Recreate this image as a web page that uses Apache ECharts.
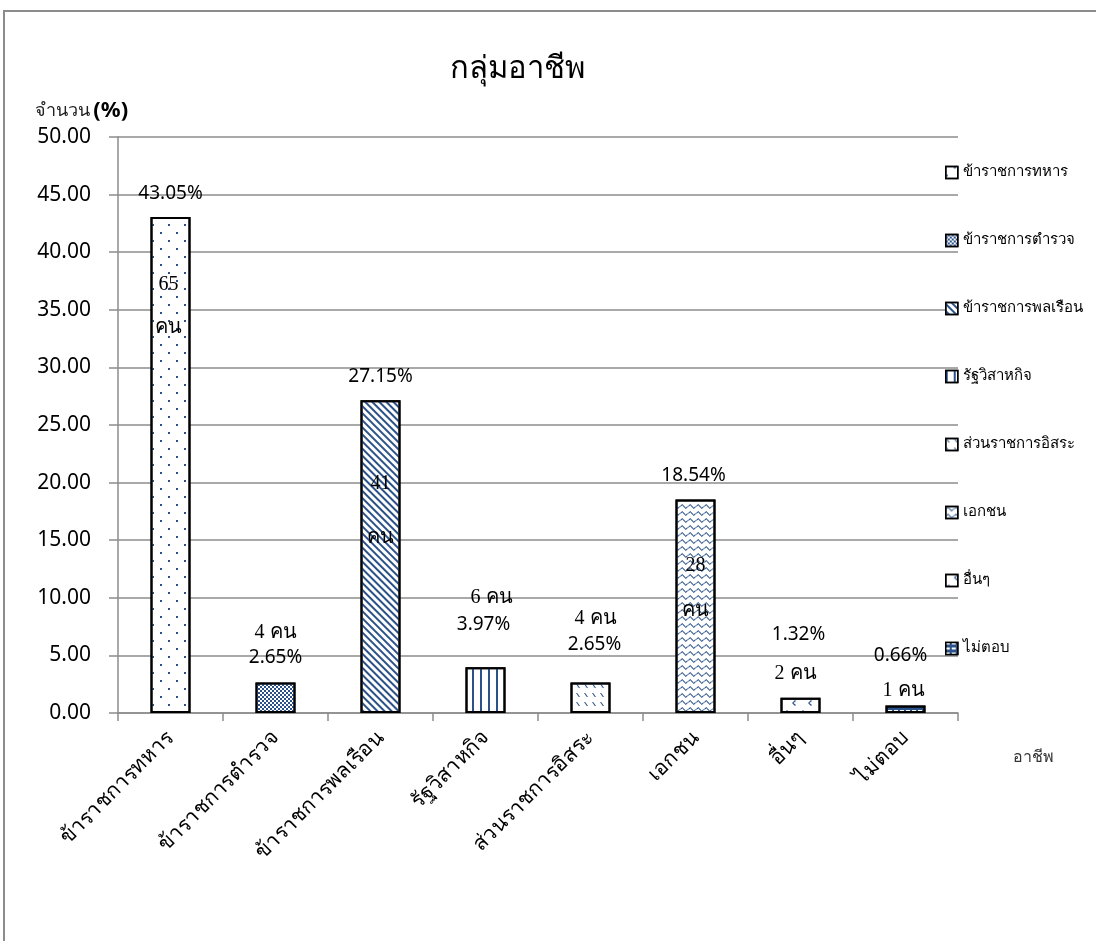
<!DOCTYPE html>
<html>
<head>
<meta charset="utf-8">
<script src="https://cdn.jsdelivr.net/npm/echarts@6/dist/echarts.min.js"></script>
<style>
  html, body { margin: 0; padding: 0; background: #fff; }
  #chart { width: 1096px; height: 941px; }
</style>
</head>
<body>
<div id="chart"></div>
<script>
// data
const occupations = ['ข้าราชการทหาร', 'ข้าราชการตำรวจ', 'ข้าราชการพลเรือน', 'รัฐวิสาหกิจ',
                     'ส่วนราชการอิสระ', 'เอกชน', 'อื่นๆ', 'ไม่ตอบ'];
const percents = [43.05, 2.65, 27.15, 3.97, 2.65, 18.54, 1.32, 0.66];
const counts = [65, 4, 41, 6, 4, 28, 2, 1];
const yMin = 0, yMax = 50, yStep = 5;

// label placement (offset from bar top centre)
const pctOffsets = [[0, -23], [0, -25], [0, -24], [-2, -43], [4, -38], [-2, -24], [-2, -63], [-5, -50]];
const cntOffsets = [[-2, 89], [0, -50], [0, 111], [6, -70], [5, -64], [0, 89], [-5, -24], [-2, -15]];
const cntInside = [true, false, true, false, false, true, false, false];
const cntLineHeights = [43, 22, 54, 22, 22, 45, 22, 22];

const blue = '#2b5288';
const fills = ['#fff', '#fff', '#fff', '#fff', '#fff', '#fff', '#fff', blue];
const decals = [
  // sparse staggered dots
  { symbol: 'rect', symbolSize: 1, color: blue, dashArrayX: [[2, 14], [0, 8, 2, 6]], dashArrayY: [2, 6] },
  // fine checker
  { symbol: 'rect', symbolSize: 1, color: blue, dashArrayX: [[2, 2], [0, 2, 2, 0]], dashArrayY: [2, 0] },
  // dense wide downward diagonal
  { symbol: 'rect', symbolSize: 1, color: blue, dashArrayX: [1, 0], dashArrayY: [1.5, 2.5], rotation: Math.PI / 4 },
  // vertical lines
  { symbol: 'rect', symbolSize: 1, color: blue, dashArrayX: [2, 6], dashArrayY: [1, 0] },
  // short dashed diagonals
  { symbol: 'path://M0,0 L1.2,0 L4,4 L2.8,4 Z', symbolSize: 1, color: blue, dashArrayX: [4, 4], dashArrayY: [4, 5] },
  // wave
  { symbol: 'path://M0,2 L2,0 L4,2 L6,4 L8,2 L8,3.5 L6,5.5 L4,3.5 L2,1.5 L0,3.5 Z', symbolSize: 1, color: blue, dashArrayX: [8, 0], dashArrayY: [5, 2] },
  // sparse chevrons
  { symbol: 'path://M3,0 L4,1 L1.5,3 L4,5 L3,6 L0,3 Z', symbolSize: 1, color: blue, dashArrayX: [[4, 12], [0, 8, 4, 4]], dashArrayY: [6, 4] },
  // white dashes on blue
  { symbol: 'rect', symbolSize: 1, color: '#fff', dashArrayX: [4, 2], dashArrayY: [1.5, 2.5] }
];

const myChart = echarts.init(document.getElementById('chart'));

const patternSeries = occupations.map((name, i) => ({
  name: name,
  type: 'bar',
  barWidth: 40,
  barGap: '-100%',
  data: percents.map((v, j) => (j === i ? v : '-')),
  itemStyle: { color: fills[i], borderColor: '#000', borderWidth: 2, decal: decals[i] },
  emphasis: { disabled: true },
  z: 2
}));

const pctSeries = {
  name: 'pct',
  type: 'bar',
  barWidth: 40,
  barGap: '-100%',
  silent: true,
  z: 5,
  itemStyle: { color: 'rgba(0,0,0,0)' },
  data: percents.map((v, i) => ({ value: v, label: { offset: pctOffsets[i] } })),
  label: {
    show: true,
    position: 'top',
    distance: 0,
    align: 'center',
    verticalAlign: 'middle',
    formatter: p => p.value.toFixed(2) + '%',
    fontFamily: 'Noto Sans',
    fontSize: 19,
    color: '#000'
  }
};

const cntSeries = {
  name: 'cnt',
  type: 'bar',
  barWidth: 40,
  barGap: '-100%',
  silent: true,
  z: 5,
  itemStyle: { color: 'rgba(0,0,0,0)' },
  data: percents.map((v, i) => ({
    value: v,
    label: { offset: cntOffsets[i], lineHeight: cntLineHeights[i] }
  })),
  label: {
    show: true,
    position: 'top',
    distance: 0,
    align: 'center',
    verticalAlign: 'middle',
    formatter: p => cntInside[p.dataIndex] ? counts[p.dataIndex] + '\nคน' : counts[p.dataIndex] + ' คน',
    fontFamily: 'Liberation Serif',
    fontSize: 20,
    color: '#000'
  }
};

const option = {
  backgroundColor: '#fff',
  animation: false,
  graphic: [
    { type: 'rect', z: -1, shape: { x: 4, y: 11, width: 1200, height: 1100 },
      style: { fill: 'none', stroke: '#8c8c8c', lineWidth: 2 } },
    { type: 'text', x: 517, y: 70,
      style: { text: 'กลุ่มอาชีพ', font: '31px "Liberation Serif"', fill: '#000',
               textAlign: 'center', textVerticalAlign: 'middle' } },
    { type: 'text', x: 35, y: 111,
      style: {
        text: '{a|จำนวน} {b|(%)}',
        textVerticalAlign: 'middle',
        rich: {
          a: { fontSize: 18, fontFamily: 'DejaVu Sans', fill: '#222', color: '#222' },
          b: { fontSize: 22, fontWeight: 'bold', fontFamily: 'Noto Sans', fill: '#000', color: '#000' }
        }
      } },
    { type: 'text', x: 1013, y: 758,
      style: { text: 'อาชีพ', font: '16px "DejaVu Sans"', fill: '#333', textVerticalAlign: 'middle' } }
  ],
  legend: {
    data: occupations,
    orient: 'vertical',
    left: 940,
    top: 160,
    itemWidth: 12,
    itemHeight: 12,
    itemGap: 53,
    icon: 'rect',
    itemStyle: { borderColor: '#000', borderWidth: 1.5 },
    textStyle: { fontSize: 15, fontFamily: 'Liberation Serif', color: '#000' },
    selectedMode: false
  },
  grid: { left: 118, right: 138, top: 137, bottom: 228 },
  xAxis: {
    type: 'category',
    data: occupations,
    axisLine: { lineStyle: { color: '#8c8c8c', width: 1.5 } },
    axisTick: { show: true, alignWithLabel: false, length: 8, lineStyle: { color: '#8c8c8c', width: 1.5 } },
    axisLabel: { rotate: 45, interval: 0, margin: 22, fontSize: 21, fontFamily: 'Liberation Serif', color: '#000' }
  },
  yAxis: {
    type: 'value',
    min: yMin,
    max: yMax,
    interval: yStep,
    axisLine: { show: true, lineStyle: { color: '#8c8c8c', width: 1.5 } },
    axisTick: { show: true, length: 9, lineStyle: { color: '#8c8c8c', width: 1.5 } },
    axisLabel: { formatter: v => v.toFixed(2), fontSize: 21, fontFamily: 'Noto Sans', color: '#000', margin: 27 },
    splitLine: { lineStyle: { color: '#8c8c8c', width: 1.5 } }
  },
  series: patternSeries.concat([pctSeries, cntSeries])
};

myChart.setOption(option);
</script>
</body>
</html>
